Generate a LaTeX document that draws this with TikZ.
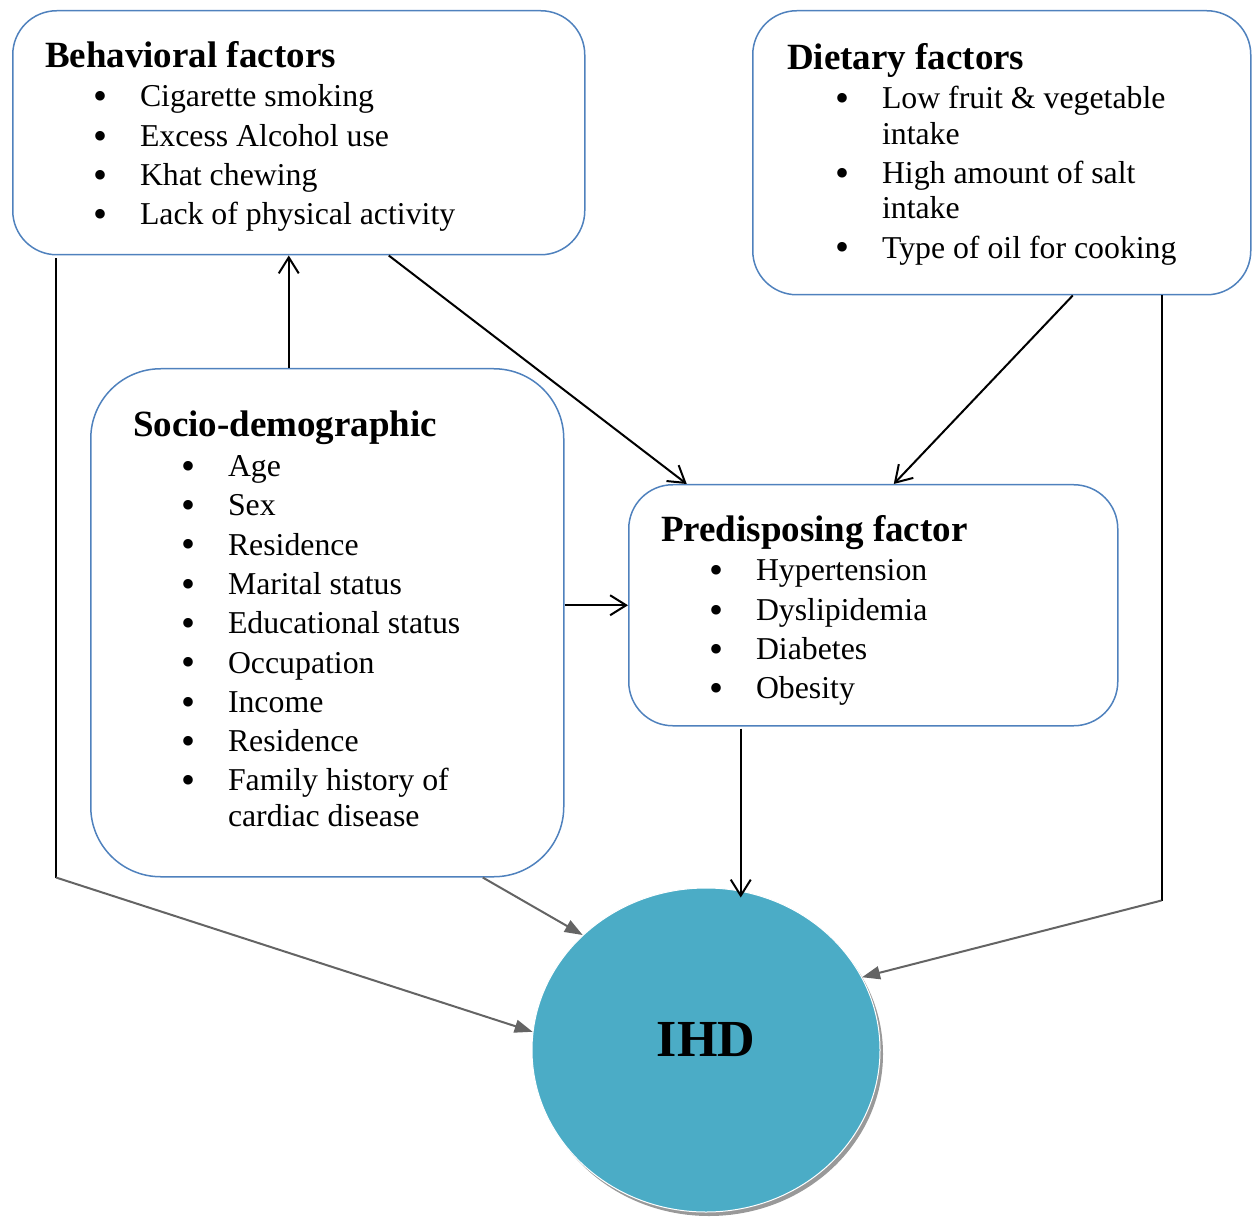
\documentclass[tikz,border=0pt]{standalone}
\usepackage{fontspec}
\setmainfont{Liberation Serif}
\usetikzlibrary{arrows.meta,positioning,shapes.geometric,shadows}

\definecolor{boxblue}{RGB}{79,129,189}
\definecolor{ihdteal}{RGB}{75,172,198}
\definecolor{arrowgray}{RGB}{100,100,100}

\newcommand{\headline}[1]{{\fontsize{18.5}{22}\selectfont\bfseries #1}}
\newcommand{\bigdot}{\raisebox{-1.4pt}{\fontsize{20}{20}\selectfont\textbullet}}
\newcommand{\itm}[1]{\hspace*{24pt}\makebox[23.5pt][l]{\bigdot}#1}
\newcommand{\wrapitm}[1]{\hspace*{47.5pt}#1}

\tikzset{
  factorbox/.style={draw=boxblue, line width=0.75pt, rounded corners=22pt, anchor=north west, inner sep=0pt},
  boxtext/.style={align=left, inner sep=0pt, outer sep=0pt, font=\fontsize{15.9}{19.65}\selectfont},
  blackarrow/.style={-{Straight Barb[length=8pt,width=10pt]}, line width=1pt},
  grayarrow/.style={-{Triangle[length=9pt,width=6.5pt]}, draw=arrowgray, line width=1pt},
}

\begin{document}
\begin{tikzpicture}[x=0.5pt,y=-0.5pt]
    \useasboundingbox (0,0) rectangle (1256,1218);

    %factor boxes
    \node[factorbox, minimum width=286pt, minimum height=122pt] (behav) at (12,10) {};
    \node[factorbox, minimum width=249pt, minimum height=142pt] (diet) at (752,10) {};
    \node[factorbox, rounded corners=35pt, minimum width=236.5pt, minimum height=254pt] (socio) at (90,368) {};
    \node[factorbox, minimum width=244.5pt, minimum height=120.5pt] (pred) at (628,484) {};

    %box texts
    \node[boxtext, below right=15.5pt and 16.5pt of behav.north west] (behavtext) {%
      \headline{Behavioral factors}\\[0.3pt]
      \itm{Cigarette smoking}\\
      \itm{Excess Alcohol use}\\
      \itm{Khat chewing}\\
      \itm{Lack of physical activity}};
    \node[boxtext, below right=16.5pt and 17.5pt of diet.north west] (diettext) {%
      \headline{Dietary factors}\\[0.3pt]
      \itm{Low fruit \& vegetable}\\[-2pt]
      \wrapitm{intake}\\
      \itm{High amount of salt}\\[-2pt]
      \wrapitm{intake}\\
      \itm{Type of oil for cooking}};
    \node[boxtext, below right=21.5pt and 21.5pt of socio.north west] (sociotext) {%
      \headline{Socio-demographic}\\[0.3pt]
      \itm{Age}\\
      \itm{Sex}\\
      \itm{Residence}\\
      \itm{Marital status}\\
      \itm{Educational status}\\
      \itm{Occupation}\\
      \itm{Income}\\
      \itm{Residence}\\
      \itm{Family history of}\\[-2pt]
      \wrapitm{cardiac disease}};
    \node[boxtext, below right=15.5pt and 16.5pt of pred.north west] (predtext) {%
      \headline{Predisposing factor}\\[0.3pt]
      \itm{Hypertension}\\
      \itm{Dyslipidemia}\\
      \itm{Diabetes}\\
      \itm{Obesity}};

    %outcome
    \node[ellipse, fill=ihdteal, draw=white, line width=0.5pt, minimum width=174pt, minimum height=162pt,
          drop shadow={shadow xshift=1.5pt, shadow yshift=-2pt, fill=black!40, opacity=1}] (ihd) at (706,1050) {};
    \node[font=\fontsize{26}{30}\selectfont\bfseries] (ihdlabel) at ([yshift=5pt]ihd.center) {IHD};

    %turning points
    \coordinate (sociotop) at ([xshift=-19.25pt]socio.north);
    \coordinate (behavleft) at ([xshift=22pt,yshift=-1.5pt]behav.south west);
    \coordinate (behavcorner) at (behavleft |- socio.south);
    \coordinate (dietright) at ([xshift=-45pt]diet.south east);
    \coordinate (dietcorner) at ([yshift=-302.5pt]dietright);
    \coordinate (predbottom) at ([xshift=-66.25pt,yshift=-1pt]pred.south);

    %arrows into factors
    \draw[blackarrow] (sociotop) -- (sociotop |- behav.south);
    \draw[blackarrow] ([xshift=45pt]behav.south) -- ([xshift=-93.25pt]pred.north);
    \draw[blackarrow] ([xshift=35.5pt]diet.south) -- ([xshift=10.25pt]pred.north);
    \draw[blackarrow] (socio.east |- pred.west) -- (pred.west);

    %arrows into IHD
    \draw[blackarrow, shorten >=-5pt] (predbottom) -- (predbottom |- ihd.north);
    \draw[line width=1pt] (behavleft) -- (behavcorner);
    \draw[grayarrow] (behavcorner) -- (ihd.174);
    \draw[grayarrow] ([xshift=77.75pt]socio.south) -- (ihd.137);
    \draw[line width=1pt] (dietright) -- (dietcorner);
    \draw[grayarrow] (dietcorner) -- (ihd.25);
\end{tikzpicture}
\end{document}
